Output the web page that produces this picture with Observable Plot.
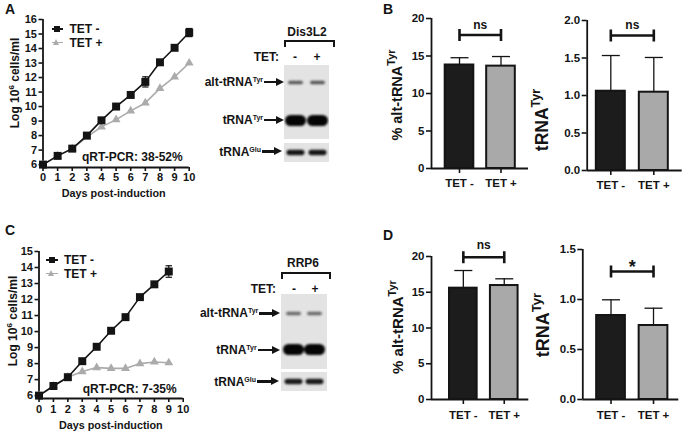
<!DOCTYPE html>
<html><head><meta charset="utf-8">
<script src="https://cdn.jsdelivr.net/npm/d3@7"></script>
<script src="https://cdn.jsdelivr.net/npm/@observablehq/plot@0.6"></script>
<style>
html,body{margin:0;padding:0;background:#fff;}
#fig{position:relative;width:688px;height:433px;overflow:hidden;background:#fff;font-family:"Liberation Sans",Arial,Helvetica,sans-serif;font-weight:bold;color:#141414;}
.abs{position:absolute;line-height:0;}
.t{position:absolute;white-space:nowrap;line-height:1;}
.c{transform:translate(-50%,-50%);}
.r{transform:translate(-100%,-50%);}
.l{transform:translate(0,-50%);}
.rot{transform:translate(-50%,-50%) rotate(-90deg);}
.sup{position:relative;}
</style></head>
<body><div id="fig"></div>
<script>
const FONT = '"Liberation Sans", Arial, Helvetica, sans-serif';
const INK = "#141414";
const GREY = "#ababab";
const BAR_DARK = "#1c1c1c";
const BAR_LIGHT = "#a9a9a9";
const fig = document.getElementById("fig");

// ---------------- data ----------------
const daysA = [0,1,2,3,4,5,6,7,8,9,10];
const aTetMinus = [6.0,6.6,7.1,8.0,9.05,10.0,10.8,11.7,13.05,14.05,15.1];
const aTetMinusErr = [0,0,0,0,0,0,0,0.35,0,0,0.28];
const aTetPlus = [6.0,6.6,7.1,7.9,8.6,9.1,9.7,10.25,11.25,12.05,13.0];
const daysC = [0,1,2,3,4,5,6,7,8,9];
const cTetMinus = [6.0,6.6,7.15,8.15,9.05,10.05,10.9,12.15,12.95,13.75];
const cTetMinusErr = [0,0,0,0,0,0,0,0,0,0.36];
const cTetPlus = [6.0,6.6,7.15,7.5,7.75,7.7,7.7,8.0,8.1,8.05];
const dayTicks = [0,1,2,3,4,5,6,7,8,9,10];
const logTicksA = [6,7,8,9,10,11,12,13,14,15,16];
const logTicksC = [6,7,8,9,10,11,12,13,14,15];
const seriesNames = ["TET -","TET +"];

const groups = ["TET -","TET +"];
const bAltPct = [13.8,13.65], bAltPctErr = [0.97,1.28];
const bTyr = [1.057,1.044], bTyrErr = [0.476,0.463];
const dAltPct = [15.57,15.94], dAltPctErr = [2.47,0.94];
const dTyr = [0.84,0.74], dTyrErr = [0.157,0.173];
const pctTicks = [0,5,10,15,20];
const bTyrTicks = [0,0.5,1,1.5,2];
const dTyrTicks = [0,0.5,1,1.5];
const bAltSig = "ns", bTyrSig = "ns", dAltSig = "ns", dTyrSig = "*";
const bAltBracket = 17.8, bTyrBracket = 1.80, dAltBracket = 19.9, dTyrBracket = 1.28;

const lanes = ["-","+"];
const aAltBand = [0.62,0.64], aTyrBand = [1,1], aGluBand = [0.93,0.93];
const cAltBand = [0.55,0.55], cTyrBand = [1,1], cGluBand = [0.9,0.9];

// ---------------- helpers ----------------
function put(node, left, top) {
  const d = document.createElement("div");
  d.className = "abs"; d.style.left = left + "px"; d.style.top = top + "px";
  node.style.display = "block";
  d.appendChild(node); fig.appendChild(d); return d;
}
function text(html, x, y, cls, size, extra) {
  const d = document.createElement("div");
  d.className = "t " + cls; d.style.left = x + "px"; d.style.top = y + "px"; d.style.fontSize = size + "px";
  if (extra) d.style.cssText += extra;
  d.innerHTML = html; fig.appendChild(d); return d;
}
function sup(s, size, raise) { return `<span class="sup" style="font-size:${size}px;top:${-raise}px">${s}</span>`; }
function box(x, y, w, h, css) {
  const d = document.createElement("div");
  d.style.cssText = `position:absolute;left:${x}px;top:${y}px;width:${w}px;height:${h}px;` + css;
  fig.appendChild(d); return d;
}
function arrow(x1, x2, y) {
  box(x1, y - 1.3, x2 - x1 - 6, 2.6, `background:${INK};`);
  box(x2 - 8, y - 4.5, 0, 0, `border-left:8px solid ${INK};border-top:4.5px solid transparent;border-bottom:4.5px solid transparent;`);
}
const hbar = {draw(ctx, size) { const r = Math.sqrt(size / Math.PI); ctx.moveTo(-r, 0); ctx.lineTo(r, 0); }};
const vbar = {draw(ctx, size) { const r = Math.sqrt(size / Math.PI); ctx.moveTo(0, -r); ctx.lineTo(0, r); }};
const baseStyle = {fontFamily: FONT, fontWeight: "bold", color: INK, background: "transparent", overflow: "visible"};

// ---------------- line charts ----------------
function lineChart(o) {
  const minus = o.days.map((d, i) => ({day: d, v: o.minus[i], e: o.err[i]}));
  const plus = o.days.map((d, i) => ({day: d, v: o.plus[i]}));
  const errs = minus.filter(d => d.e > 0);
  const caps = errs.flatMap(d => [{day: d.day, v: d.v - d.e}, {day: d.day, v: d.v + d.e}]);
  const svg = Plot.plot({
    width: o.width, height: o.height,
    marginTop: o.mt, marginRight: o.mr, marginBottom: o.mb, marginLeft: o.ml,
    x: {type: "linear", domain: o.xDomain},
    y: {type: "linear", domain: o.yDomain},
    style: {...baseStyle, fontSize: "11px"},
    marks: [
      Plot.axisX({ticks: o.xTicks, tickFormat: d3.format("d"), tickSize: 4, tickPadding: o.xpad, label: null, strokeWidth: 1.6, stroke: INK}),
      Plot.axisY({ticks: o.yTicks, tickFormat: d3.format("d"), tickSize: 4, tickPadding: 2, label: null, strokeWidth: 1.6, stroke: INK}),
      Plot.ruleX([o.xDomain[0]], {stroke: INK, strokeWidth: 1.8}),
      Plot.ruleY([o.yDomain[0]], {stroke: INK, strokeWidth: 1.8}),
      Plot.line(plus, {x: "day", y: "v", stroke: GREY, strokeWidth: 1.6}),
      Plot.dot(plus, {x: "day", y: "v", symbol: "triangle", r: 3.3, fill: GREY, stroke: "none"}),
      Plot.line(minus, {x: "day", y: "v", stroke: INK, strokeWidth: 1.6}),
      Plot.ruleX(errs, {x: "day", y1: d => d.v - d.e, y2: d => d.v + d.e, stroke: INK, strokeWidth: 1.2}),
      Plot.dot(caps, {x: "day", y: "v", symbol: hbar, r: 3.2, stroke: INK, fill: "none", strokeWidth: 1.2}),
      Plot.dot(minus, {x: "day", y: "v", symbol: "square", r: 4.5, fill: INK, stroke: "none"})
    ]
  });
  put(svg, o.left, o.top);
}
function legend(x0, x1, xm, xt, ys) {
  seriesNames.forEach((name, i) => {
    const y = ys[i];
    const col = i === 0 ? INK : GREY;
    box(x0, y - 0.8, x1 - x0, 1.6, `background:${col};`);
    if (i === 0) box(xm - 3.3, y - 3.3, 6.6, 6.6, `background:${INK};`);
    else box(xm - 3.8, y - 3.8, 0, 0, `border-bottom:6.5px solid ${GREY};border-left:3.8px solid transparent;border-right:3.8px solid transparent;`);
    text(name, xt, y, "l", 12);
  });
}

lineChart({left: 0, top: 0, width: 200, height: 205, mt: 19, mr: 11.3, mb: 38, ml: 42.5,
  xDomain: [0, 10], yDomain: [5.8, 16], xTicks: dayTicks, yTicks: logTicksA, xpad: 2,
  days: daysA, minus: aTetMinus, err: aTetMinusErr, plus: aTetPlus});
lineChart({left: 0, top: 215, width: 200, height: 205, mt: 36, mr: 17.3, mb: 22, ml: 38.5,
  xDomain: [0, 10], yDomain: [5.82, 15], xTicks: dayTicks, yTicks: logTicksC, xpad: 2.5,
  days: daysC, minus: cTetMinus, err: cTetMinusErr, plus: cTetPlus});
legend(51.7, 62.7, 57.2, 69.5, [29, 42.7]);
legend(46, 57.7, 52, 64, [260, 273.5]);
text("Log 10" + sup("6", 8, 5) + " cells/ml", 15, 83, "rot", 12);
text("Log 10" + sup("6", 8, 5) + " cells/ml", 13, 321, "rot", 12);
text("Days post-induction", 113.7, 193.3, "c", 10.8);
text("Days post-induction", 110.8, 425, "c", 10.8);
text("qRT-PCR: 38-52%", 82, 157, "l", 12);
text("qRT-PCR: 7-35%", 82.7, 389, "l", 12);

// ---------------- bar charts ----------------
function barChart(o) {
  const rows = groups.map((g, i) => ({g, i, v: o.values[i], e: o.errs[i]}));
  const svg = Plot.plot({
    width: o.width, height: o.height,
    marginTop: o.mt, marginRight: o.mr, marginBottom: o.mb, marginLeft: o.ml,
    x: {type: "linear", domain: o.xDomain},
    y: {type: "linear", domain: o.yDomain},
    style: {...baseStyle, fontSize: "11.5px"},
    marks: [
      Plot.axisY({ticks: o.yTicks, tickFormat: o.fmt, tickSize: 5, tickPadding: 2, label: null, strokeWidth: 1.6, stroke: INK}),
      Plot.axisX({ticks: [0, 1], tickFormat: i => groups[i], tickSize: 5, tickPadding: o.xpad, label: null, strokeWidth: 1.6, stroke: INK}),
      Plot.ruleX(rows, {x: "i", y1: "v", y2: d => d.v + d.e, stroke: INK, strokeWidth: 1.3}),
      Plot.dot(rows, {x: "i", y: d => d.v + d.e, symbol: hbar, r: o.cap, stroke: INK, fill: "none", strokeWidth: 1.3}),
      Plot.rect(rows.filter(d => d.i === 0), {x1: d => d.i - o.half, x2: d => d.i + o.half, y1: 0, y2: "v", fill: BAR_DARK, stroke: INK, strokeWidth: 2}),
      Plot.rect(rows.filter(d => d.i === 1), {x1: d => d.i - o.half, x2: d => d.i + o.half, y1: 0, y2: "v", fill: BAR_LIGHT, stroke: INK, strokeWidth: 2}),
      Plot.ruleX([o.xDomain[0]], {stroke: INK, strokeWidth: 1.8}),
      Plot.ruleY([o.yDomain[0]], {stroke: INK, strokeWidth: 1.8}),
      Plot.ruleY([o.bracket], {x1: 0, x2: 1, stroke: INK, strokeWidth: 2.6}),
      Plot.dot([0, 1], {x: d => d, y: () => o.bracket, symbol: vbar, r: 6, stroke: INK, fill: "none", strokeWidth: 2.6}),
      Plot.text([o.sig], {x: () => 0.5, y: () => o.bracket, text: d => d, dy: o.sigDy, fontSize: o.sigSize, fontWeight: "bold", fill: INK})
    ]
  });
  put(svg, o.left, o.top);
}
const f0 = d3.format("d"), f1 = d3.format(".1f");
barChart({left: 380, top: 0, width: 160, height: 200, mt: 18, mr: 12, mb: 32, ml: 51,
  xDomain: [-0.675, 1.663], yDomain: [0, 20], yTicks: pctTicks, fmt: f0, xpad: 5,
  values: bAltPct, errs: bAltPctErr, half: 0.345, cap: 9,
  bracket: bAltBracket, sig: bAltSig, sigDy: -10, sigSize: 12});
barChart({left: 540, top: 0, width: 148, height: 200, mt: 20, mr: 6.3, mb: 30, ml: 46.7,
  xDomain: [-0.549, 1.66], yDomain: [0, 2], yTicks: bTyrTicks, fmt: f1, xpad: 5,
  values: bTyr, errs: bTyrErr, half: 0.337, cap: 9,
  bracket: bTyrBracket, sig: bTyrSig, sigDy: -10, sigSize: 12});
barChart({left: 380, top: 215, width: 160, height: 205, mt: 41, mr: 11.7, mb: 21, ml: 51,
  xDomain: [-0.778, 1.6], yDomain: [0, 20], yTicks: pctTicks, fmt: f0, xpad: 6,
  values: dAltPct, errs: dAltPctErr, half: 0.338, cap: 9,
  bracket: dAltBracket, sig: dAltSig, sigDy: -12, sigSize: 12});
barChart({left: 540, top: 215, width: 148, height: 205, mt: 34, mr: 9.7, mb: 21, ml: 42.3,
  xDomain: [-0.664, 1.595], yDomain: [0, 1.5], yTicks: dTyrTicks, fmt: f1, xpad: 6,
  values: dTyr, errs: dTyrErr, half: 0.338, cap: 9,
  bracket: dTyrBracket, sig: dTyrSig, sigDy: -4, sigSize: 18});
text("% alt-tRNA" + sup("Tyr", 11, 7), 397, 95, "rot", 14.5);
text("tRNA" + sup("Tyr", 12.5, 8), 543, 120, "rot", 17.5);
text("% alt-tRNA" + sup("Tyr", 11, 7), 397, 327, "rot", 15);
text("tRNA" + sup("Tyr", 13, 8), 543, 325, "rot", 18);

// ---------------- blots ----------------
function gel(o) {
  const step = o.width / (2 + o.pad), bw = step * (1 - o.pad);
  const marks = o.bands.map(b => Plot.tickY(
    lanes.map((l, i) => ({lane: l, row: b.row, k: b.values[i]})),
    {x: "lane", y: "row", stroke: "k", strokeWidth: b.thick, strokeLinecap: "round",
     inset: (bw - (b.vis - b.thick)) / 2}));
  const svg = Plot.plot({
    width: o.width, height: o.height,
    marginTop: o.mt, marginBottom: o.mb, marginLeft: 0, marginRight: 0,
    x: {type: "band", domain: lanes, padding: o.pad, axis: null},
    y: {type: "point", domain: o.bands.map(b => b.row), padding: 0, axis: null},
    color: {type: "linear", domain: [0, 1], range: ["#e3e3e3", "#050505"]},
    style: {background: "#e3e3e3", overflow: "hidden"},
    marks
  });
  svg.querySelectorAll('g[aria-label="tick"]').forEach(g => g.style.filter = "blur(0.8px)");
  put(svg, o.left, o.top);
}
function blot(o) {
  gel({left: o.gx, top: o.g1top, width: o.gw, height: o.g1h, mt: o.altY - o.g1top, mb: o.g1top + o.g1h - o.tyrY, pad: o.pad,
    bands: [{row: "alt-tRNA Tyr", values: o.alt, thick: 3.6, vis: 15}, {row: "tRNA Tyr", values: o.tyr, thick: 11, vis: 21}]});
  gel({left: o.gx, top: o.g2top, width: o.gw, height: o.g2h, mt: 0, mb: 2 * (o.g2top + o.g2h / 2 - o.gluY), pad: o.pad,
    bands: [{row: "tRNA Glu", values: o.glu, thick: 5.5, vis: 18}]});
  text(o.name, o.nameX, o.nameY, "c", 12);
  box(o.brX, o.brY, o.brW, 5, `border:2px solid ${INK};border-bottom:none;`);
  text("TET:", o.tetX, o.tetY, "r", 12);
  text("-", o.l1, o.tetY, "c", 12);
  text("+", o.l2, o.tetY, "c", 12);
  text("alt-tRNA" + sup("Tyr", 7, 4), o.lab[0], o.altY, "r", 12);
  text("tRNA" + sup("Tyr", 7, 4), o.lab[1], o.tyrY, "r", 12);
  text("tRNA" + sup("Glu", 7, 4), o.lab[2], o.gluY, "r", 12);
  arrow(o.lab[0] + 1, o.gx - 0.5, o.altY);
  arrow(o.lab[1] + 1, o.gx - 0.5, o.tyrY);
  arrow(o.lab[2] + 1, o.gx - 2, o.gluY);
}
blot({gx: 284.3, gw: 45, pad: 0.045, g1top: 65, g1h: 74, g2top: 142.7, g2h: 19.6,
  altY: 82, tyrY: 120, gluY: 151.5, alt: aAltBand, tyr: aTyrBand, glu: aGluBand,
  name: "Dis3L2", nameX: 307, nameY: 32, brX: 284, brY: 40, brW: 47,
  tetX: 279, tetY: 57, l1: 295, l2: 317, lab: [263, 263, 261]});
blot({gx: 280.7, gw: 46, pad: 0.19, g1top: 294.3, g1h: 75, g2top: 372.3, g2h: 18.4,
  altY: 313.3, tyrY: 350, gluY: 381.7, alt: cAltBand, tyr: cTyrBand, glu: cGluBand,
  name: "RRP6", nameX: 303, nameY: 263, brX: 281, brY: 272, brW: 46,
  tetX: 276, tetY: 289, l1: 294, l2: 315, lab: [258.3, 256.7, 256]});

// ---------------- panel letters ----------------
text("A", 10, 9, "c", 14);
text("B", 388, 9, "c", 14);
text("C", 10, 230, "c", 14);
text("D", 388, 234.5, "c", 14);
</script></body></html>
